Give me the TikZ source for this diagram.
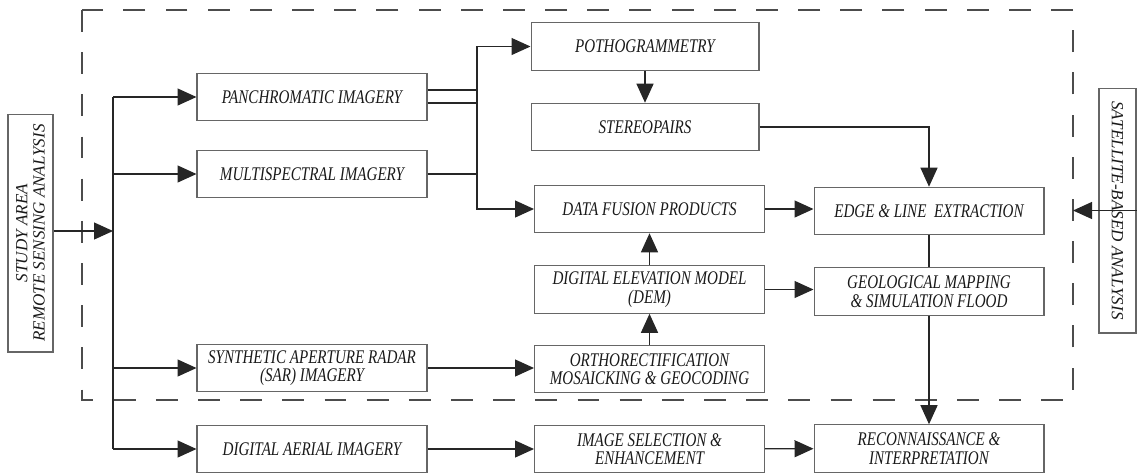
\documentclass[tikz,border=0pt]{standalone}
\usepackage{fontspec}
\setmainfont{Liberation Serif}[FakeStretch=0.78]
\newfontfamily\sidefont{Liberation Serif}
\usetikzlibrary{arrows.meta,calc}

\begin{document}
\begin{tikzpicture}[x=0.02cm,y=-0.02cm,
    process/.style ={rectangle, draw=black!60, line width=0.6pt, minimum width=4.6cm, minimum height=0.95cm, inner sep=1pt, align=center, text=black!90, font=\fontsize{11}{10.5}\selectfont\itshape},
    sidebox/.style ={process, font=\sidefont\fontsize{9.7}{9.8}\selectfont\itshape},
    flow/.style ={draw=black!85, line width=0.7pt},
    arrowed/.style ={flow, -{Triangle[length=0.38cm, width=0.34cm]}},
    frame/.style ={draw=black!70, line width=0.8pt, dash pattern=on 12.5pt off 11.5pt}]
   \useasboundingbox (0,0) rectangle (1138,474);
   % dashed frame of the satellite-based part
   \coordinate (frameNW) at (82,10);
   \coordinate (frameSE) at (1073,400);
   \draw[frame] (frameNW) rectangle (frameSE);
   % side boxes
   \node[sidebox, rotate=90, minimum width=4.76cm, minimum height=0.9cm] (study) at (30.5,233) {STUDY AREA\\REMOTE SENSING ANALYSIS};
   \node[sidebox, rotate=-90, minimum width=4.9cm, minimum height=0.74cm] (sat) at (1117.5,210.5) {SATELLITE-BASED ANALYSIS};
   % imagery column
   \node[process] (pan) at (312,97) {PANCHROMATIC IMAGERY};
   \node[process] (multi) at (312,174) {MULTISPECTRAL IMAGERY};
   \node[process] (sar) at (312,368) {SYNTHETIC APERTURE RADAR\\(SAR) IMAGERY};
   \node[process] (aerial) at (312,449) {DIGITAL AERIAL IMAGERY};
   % processing column
   \node[process, minimum width=4.56cm] (poth) at (645,46.5) {POTHOGRAMMETRY};
   \node[process, minimum width=4.56cm] (stereo) at (645,127) {STEREOPAIRS};
   \node[process] (fusion) at (649.5,209) {DATA FUSION PRODUCTS};
   \node[process] (dem) at (649.5,289.5) {DIGITAL ELEVATION MODEL\\(DEM)};
   \node[process] (ortho) at (649.5,369) {ORTHORECTIFICATION\\MOSAICKING \& GEOCODING};
   \node[process] (imgsel) at (649.5,449) {IMAGE SELECTION \&\\ENHANCEMENT};
   % products column
   \node[process] (edge) at (929,211) {EDGE \& LINE~ EXTRACTION};
   \node[process] (geo) at (929,291.5) {GEOLOGICAL MAPPING\\\& SIMULATION FLOOD};
   \node[process] (recon) at (929,448.5) {RECONNAISSANCE \&\\INTERPRETATION};
   % trunk from the study area
   \coordinate (trunk) at (113,231);
   \coordinate (split) at (477,130);
   \draw[flow] (pan.west -| trunk) -- (aerial.west -| trunk);
   \draw[arrowed] (study.south |- trunk) -- (trunk);
   \draw[arrowed] (pan.west -| trunk) -- (pan.west);
   \draw[arrowed] (multi.west -| trunk) -- (multi.west);
   \draw[arrowed] (sar.west -| trunk) -- (sar.west);
   \draw[arrowed] (aerial.west -| trunk) -- (aerial.west);
   % panchromatic and multispectral outputs
   \draw[arrowed] ($(pan.east)+(0,-7)$) -| (split) |- (poth.west);
   \draw[arrowed] ($(pan.east)+(0,6)$) -| (split) |- (fusion.west);
   \draw[flow] (multi.east) -- (multi.east -| split);
   \draw[arrowed] (poth) -- (stereo);
   \draw[arrowed] (stereo.east) -| (edge.north);
   \draw[arrowed] (fusion.east) -- (fusion.east -| edge.west);
   \draw[arrowed] (dem) -- (fusion);
   \draw[arrowed] (ortho) -- (dem);
   \draw[arrowed] (dem.east) -- (dem.east -| geo.west);
   \draw[arrowed] (sar.east) -- (sar.east -| ortho.west);
   \draw[flow] (edge) -- (geo);
   \draw[arrowed] (geo) -- (recon);
   \draw[arrowed] (aerial) -- (imgsel);
   \draw[arrowed] (imgsel) -- (recon);
   \draw[arrowed] (sat.north) -- (sat.north -| frameSE);
\end{tikzpicture}
\end{document}
